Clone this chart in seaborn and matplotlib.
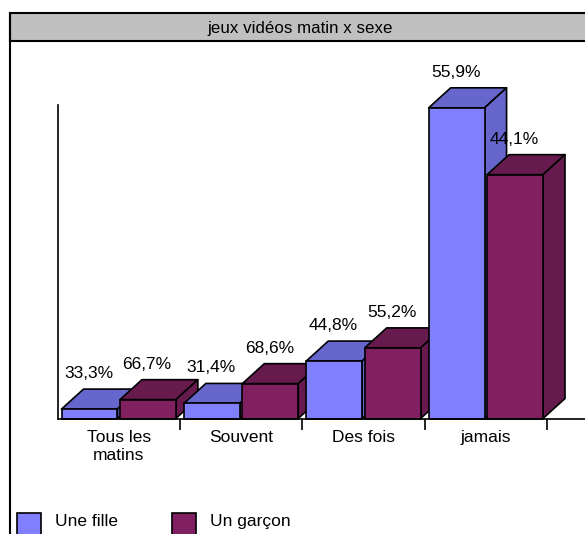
import matplotlib
matplotlib.use("Agg")
import numpy as np
import pandas as pd
import matplotlib.pyplot as plt
import seaborn as sns
from matplotlib.patches import Rectangle, Polygon
from matplotlib.lines import Line2D

W, H = 585, 534

title = "jeux vidéos matin x sexe"
categories = ["Tous les\nmatins", "Souvent", "Des fois", "jamais"]
groups = ["Une fille", "Un garçon"]
fille_values = [1.0, 1.6, 6.1, 33.0]
garcon_values = [2.0, 3.7, 7.5, 25.9]
fille_labels = ["33,3%", "31,4%", "44,8%", "55,9%"]
garcon_labels = ["66,7%", "68,6%", "55,2%", "44,1%"]

front_colors = {"Une fille": "#8080FF", "Un garçon": "#802060"}
shade_colors = {"Une fille": "#6666CC", "Un garçon": "#661A4D"}

FS = 12.5

sns.set_theme(style="white")
plt.rcParams["font.family"] = ["Liberation Sans", "DejaVu Sans"]

fig = plt.figure(figsize=(W / 100, H / 100), dpi=100)


def fx(x):
    return x / W


def fy(y):
    return 1 - y / H


# outer frame and grey title band
fig.add_artist(Line2D([fx(10), fx(10)], [fy(12.5), -0.1], transform=fig.transFigure,
                      color="black", lw=1.5))
fig.add_artist(Rectangle((fx(10), fy(41)), 1.2, (41 - 12.5) / H, transform=fig.transFigure,
                         facecolor="#C0C0C0", edgecolor="black", lw=1.5))
fig.text(fx(300), fy(33.5), title, ha="center", va="baseline", fontsize=12.2, color="black")

ax = fig.add_axes([fx(57.5), fy(418.5), (547 - 57.5) / W, (418.5 - 105) / H])
ax.set_facecolor("none")

df = pd.DataFrame({
    "cat": categories * 2,
    "sexe": [groups[0]] * len(categories) + [groups[1]] * len(categories),
    "val": fille_values + garcon_values,
})
sns.barplot(data=df, x="cat", y="val", hue="sexe", order=categories, hue_order=groups,
            palette=front_colors, width=0.955, gap=0.043, saturation=1,
            edgecolor="black", linewidth=1.2, legend=False, errorbar=None, ax=ax)

ax.set_xlim(-0.5, 3.5)
ax.set_ylim(0, 33.3)
ax.set_xlabel("")
ax.set_ylabel("")
ax.set_yticks([])
for s in ("top", "right", "bottom"):
    ax.spines[s].set_visible(False)
ax.spines["left"].set_color("black")
ax.spines["left"].set_linewidth(1.2)
ax.set_xticks([0.5, 1.5, 2.5, 3.5], minor=True)
ax.tick_params(axis="x", which="major", length=0, pad=8.5, labelsize=FS, labelcolor="black")
ax.tick_params(axis="x", which="minor", length=8, width=1.2, color="black", direction="out",
               bottom=True)
for lbl in ax.get_xticklabels():
    lbl.set_linespacing(1.2)

# depth faces (top and right side) for each bar, drawn left to right
items = []
for cont, g, labs in zip(ax.containers, groups, [fille_labels, garcon_labels]):
    for p, lab in zip(cont.patches, labs):
        items.append((p, g, lab))
items.sort(key=lambda t: t[0].get_x())

to_px = ax.transData.transform
to_data = ax.transData.inverted().transform
off = np.array([22.0, 20.0])
for i, (p, g, lab) in enumerate(items):
    x0 = p.get_x()
    x1 = x0 + p.get_width()
    h = p.get_height()
    a = to_px((x0, h))
    b = to_px((x1, h))
    c = to_px((x1, 0))
    top = to_data(np.array([a, b, b + off, a + off]))
    side = to_data(np.array([c, b, b + off, c + off]))
    for poly in (top, side):
        ax.add_patch(Polygon(poly, closed=True, facecolor=shade_colors[g], edgecolor="black",
                             lw=1.2, joinstyle="round", zorder=2 + 2 * i, clip_on=False))
    p.set_zorder(3 + 2 * i)
    p.set_clip_on(False)
    ax.annotate(lab, xy=((x0 + x1) / 2, h), xytext=(-1, 31), textcoords="offset pixels",
                ha="center", va="baseline", fontsize=FS, color="black", zorder=50)

# category axis baseline running to the right edge
fig.add_artist(Line2D([fx(57.5), 1.05], [fy(418.5), fy(418.5)], transform=fig.transFigure,
                      color="black", lw=1.2))

# legend
for x, g in ((17, groups[0]), (172, groups[1])):
    fig.add_artist(Rectangle((fx(x), fy(537)), 24 / W, 24 / H, transform=fig.transFigure,
                             facecolor=front_colors[g], edgecolor="black", lw=1.2))
    fig.text(fx(x + 38), fy(521.5), g, ha="left", va="center", fontsize=FS, color="black")

fig.savefig("out.png", dpi=100, facecolor="white")
